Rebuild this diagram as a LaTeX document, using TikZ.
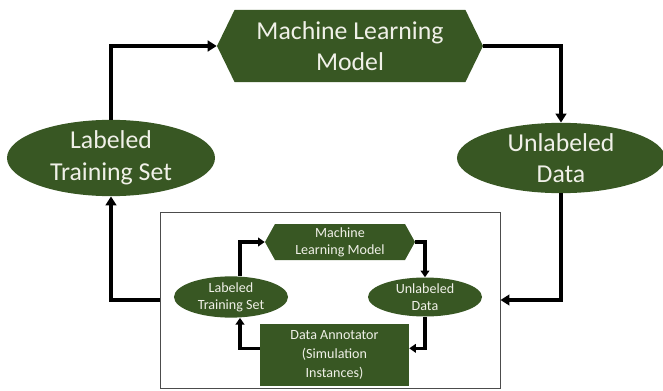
\documentclass[tikz,border=0pt]{standalone}
\usepackage{fontspec}
\setmainfont{Carlito}
\usetikzlibrary{shapes.geometric, shapes.symbols, arrows.meta, positioning}
\definecolor{leafgreen}{RGB}{56,87,35}
\definecolor{paletext}{RGB}{240,240,232}

\begin{document}
\begin{tikzpicture}[
          x=0.03cm, y=-0.03cm,
          hexbig/.style={signal, signal to=east and west, signal pointer angle=128,
                      fill=leafgreen, text=paletext, inner sep=0pt,
                      minimum width=7.98cm, minimum height=2.16cm,
                      align=center, font=\fontsize{22}{27}\selectfont},
          ellbig/.style={ellipse, fill=leafgreen, text=paletext, inner sep=0pt,
                      minimum width=6.24cm, minimum height=2.1cm,
                      align=center, font=\fontsize{22}{27}\selectfont},
          hexsmall/.style={hexbig, signal pointer angle=122,
                      minimum width=4.5cm, minimum height=1.08cm,
                      font=\fontsize{12}{14.5}\selectfont},
          ellsmall/.style={ellbig, minimum width=3.42cm, minimum height=1.17cm,
                      font=\fontsize{12}{14.5}\selectfont},
          annot/.style={rectangle, fill=leafgreen, text=paletext, inner sep=0pt,
                      minimum width=4.47cm, minimum height=1.86cm,
                      align=center, font=\fontsize{12}{16.5}\selectfont},
          outerbox/.style={rectangle, draw=black!70, line width=0.8pt,
                      minimum width=10.2cm, minimum height=5.28cm},
          bigarr/.style={-{Triangle[length=0.27cm, width=0.32cm]}, line width=3.4pt},
          smallarr/.style={-{Triangle[length=0.2cm, width=0.26cm]}, line width=2.6pt},
        ]
          \useasboundingbox (0,0) rectangle (663,391);
          % outer loop
          \node[hexbig] (mlm) at (350,46) {Machine Learning\\Model};
          \node[ellbig] (lts) at (111,158) {Labeled\\Training Set};
          \node[ellbig] (ud) at (561,158) {Unlabeled\\Data};
          \node[outerbox] (box) at (330,300) {};
          \draw[bigarr] (lts.north) |- (mlm.west);
          \draw[bigarr] (mlm.east) -| (ud.north);
          \draw[bigarr] (ud.south) |- (box.east);
          \draw[bigarr] (box.west) -| (lts.south);
          % inner loop
          \node[hexsmall] (imlm) at (340,242) {Machine\\Learning Model};
          \node[ellsmall] (ilts) at (231,297) {Labeled\\Training Set};
          \node[ellsmall] (iud) at (425,297) {Unlabeled\\Data};
          \node[annot] (ann) at (334.5,355) {Data Annotator\\(Simulation\\Instances)};
          \draw[smallarr] ([xshift=0.27cm]ilts.north) |- (imlm.west);
          \draw[smallarr] (imlm.east) -| (iud.north);
          \draw[smallarr] (iud.south) |- ([yshift=0.2cm]ann.east);
          \draw[smallarr] ([yshift=0.2cm]ann.west) -| ([xshift=0.27cm]ilts.south);
        \end{tikzpicture}
\end{document}
